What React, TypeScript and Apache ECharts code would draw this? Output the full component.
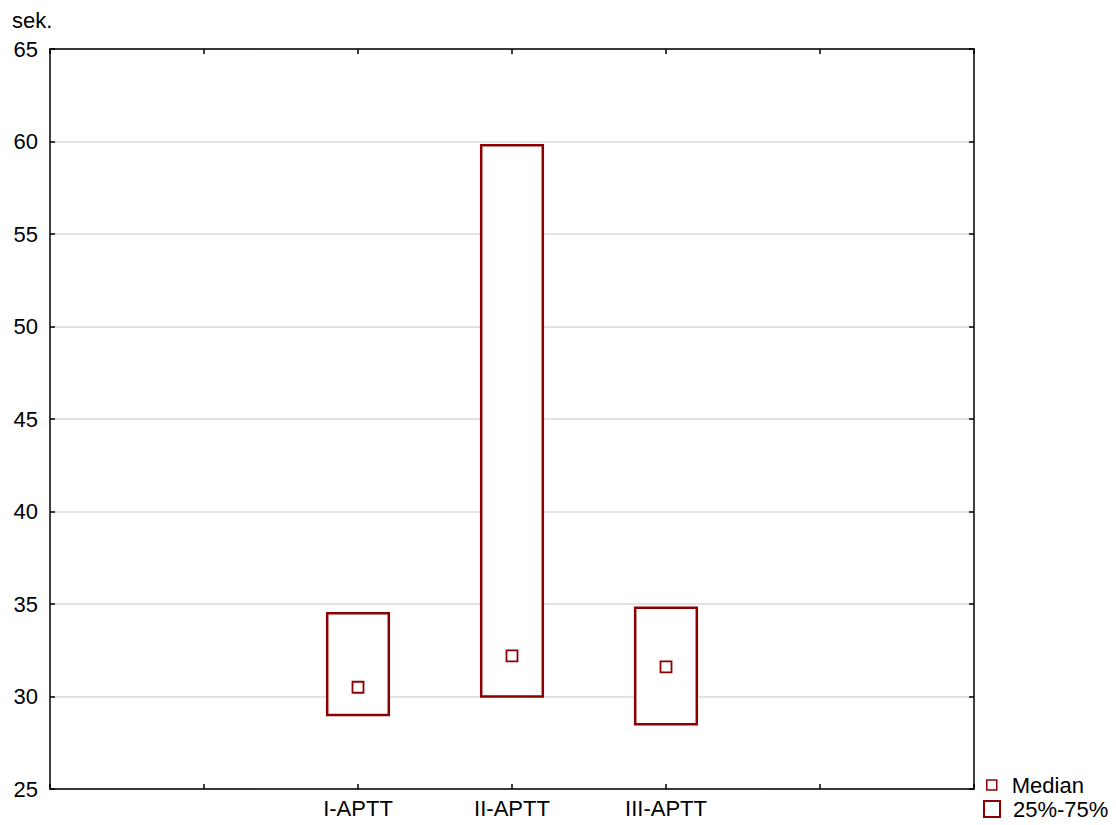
import React, { useEffect, useRef } from "react";
import * as echarts from "echarts";

const categories = ["I-APTT", "II-APTT", "III-APTT"];
const categoryPositions = [2, 3, 4];
const q1Values = [29.0, 30.0, 28.5];
const q3Values = [34.5, 59.8, 34.8];
const medianValues = [30.5, 32.2, 31.6];
const yTicks = [25, 30, 35, 40, 45, 50, 55, 60, 65];

const RED = "#8b0000";
const FONT = "'Liberation Sans', Arial, sans-serif";
const FS = 22;

export default function App() {
  const ref = useRef<HTMLDivElement>(null);
  useEffect(() => {
    if (!ref.current) return;
    const chart = echarts.init(ref.current, null, { renderer: "svg" });
    const boxData = categoryPositions.map((x, i) => [x, q1Values[i], q3Values[i]]);
    const medData = categoryPositions.map((x, i) => [x, medianValues[i]]);
    const labelFor = (v: number) => {
      const idx = categoryPositions.indexOf(v);
      return idx >= 0 ? categories[idx] : "";
    };
    chart.setOption({
      animation: false,
      backgroundColor: "#fff",
      textStyle: { fontFamily: FONT },
      grid: { left: 50, top: 49, right: 142, bottom: 36, containLabel: false },
      xAxis: [
        {
          type: "value",
          position: "bottom",
          min: 0,
          max: 6,
          interval: 1,
          axisLine: { show: true, onZero: false, lineStyle: { color: "#000", width: 1.5 } },
          axisTick: { show: true, inside: true, length: 5, lineStyle: { color: "#000", width: 1.5 } },
          axisLabel: {
            show: true,
            margin: 8,
            fontSize: FS,
            fontFamily: FONT,
            color: "#000",
            formatter: (v: number) => labelFor(v),
          },
          splitLine: { show: false },
        },
        {
          type: "value",
          position: "top",
          min: 0,
          max: 6,
          interval: 1,
          axisLine: { show: true, onZero: false, lineStyle: { color: "#000", width: 1.5 } },
          axisTick: { show: true, inside: true, length: 5, lineStyle: { color: "#000", width: 1.5 } },
          axisLabel: { show: false },
          splitLine: { show: false },
        },
      ],
      yAxis: [
        {
          type: "value",
          position: "left",
          min: yTicks[0],
          max: yTicks[yTicks.length - 1],
          interval: 5,
          axisLine: { show: true, onZero: false, lineStyle: { color: "#000", width: 1.5 } },
          axisTick: { show: true, inside: true, length: 5, lineStyle: { color: "#000", width: 1.5 } },
          axisLabel: { margin: 12, fontSize: FS, fontFamily: FONT, color: "#000" },
          splitLine: { show: true, lineStyle: { color: "#d9d9d9", width: 1.5 } },
        },
        {
          type: "value",
          position: "right",
          min: yTicks[0],
          max: yTicks[yTicks.length - 1],
          interval: 5,
          axisLine: { show: true, onZero: false, lineStyle: { color: "#000", width: 1.5 } },
          axisTick: { show: true, inside: true, length: 5, lineStyle: { color: "#000", width: 1.5 } },
          axisLabel: { show: false },
          splitLine: { show: false },
        },
      ],
      legend: [
        {
          data: [
            {
              name: "Median",
              icon: "rect",
              itemStyle: { color: "#fff", borderColor: RED, borderWidth: 1.5 },
            },
          ],
          left: 986,
          top: 774,
          padding: 0,
          itemWidth: 10,
          itemHeight: 10,
          selectedMode: false,
          textStyle: { fontSize: FS, fontFamily: FONT, color: "#000", padding: [0, 0, 0, 10] },
        },
        {
          data: [
            {
              name: "25%-75%",
              icon: "rect",
              itemStyle: { color: "#fff", borderColor: RED, borderWidth: 2 },
            },
          ],
          left: 983,
          top: 798,
          padding: 0,
          itemWidth: 16,
          itemHeight: 16,
          selectedMode: false,
          textStyle: { fontSize: FS, fontFamily: FONT, color: "#000", padding: [0, 0, 0, 8] },
        },
      ],
      graphic: [
        {
          type: "text",
          left: 12,
          top: 9,
          style: { text: "sek.", fontSize: FS, fontFamily: FONT, fill: "#000" },
        },
      ],
      series: [
        {
          name: "25%-75%",
          type: "custom",
          xAxisIndex: 0,
          yAxisIndex: 0,
          data: boxData,
          itemStyle: { color: "#fff", borderColor: RED },
          renderItem: (params: any, api: any) => {
            const x = api.value(0);
            const lo = api.coord([x, api.value(1)]);
            const hi = api.coord([x, api.value(2)]);
            const w = api.size([1, 0])[0] * 0.4;
            return {
              type: "rect",
              shape: { x: lo[0] - w / 2, y: hi[1], width: w, height: lo[1] - hi[1] },
              style: { fill: "#fff", stroke: RED, lineWidth: 2.5 },
            };
          },
          z: 3,
        },
        {
          name: "Median",
          type: "scatter",
          xAxisIndex: 0,
          yAxisIndex: 0,
          data: medData,
          symbol: "rect",
          symbolSize: 11,
          itemStyle: { color: "#fff", borderColor: RED, borderWidth: 1.8, opacity: 1 },
          z: 4,
        },
      ],
    });
    return () => chart.dispose();
  }, []);
  return (
    <div
      ref={ref}
      style={{ position: "fixed", left: 0, top: 0, width: 1116, height: 825, background: "#fff" }}
    />
  );
}
